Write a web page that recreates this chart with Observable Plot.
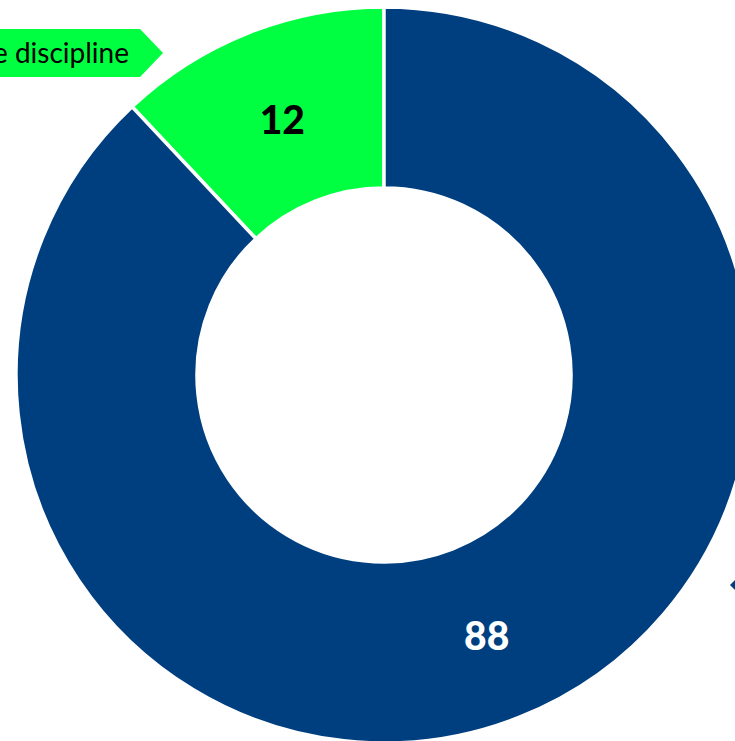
<!DOCTYPE html>
<html><head><meta charset="utf-8">
<script src="https://cdn.jsdelivr.net/npm/d3@7"></script>
<script src="https://cdn.jsdelivr.net/npm/@observablehq/plot@0.6"></script>
<style>html,body{margin:0;padding:0;background:#fff;overflow:hidden}svg{display:block}</style>
</head><body><div id="chart"></div>
<script>
const categories = ["Outside the discipline", "Within the discipline"];
const values = [12, 88];
const colors = ["#00FF40", "#003F7F"];
const labelColors = ["#000000", "#FFFFFF"];

const W = 735, H = 741;
const cx = 384, cy = 375, R = 368, r0 = 187;

const total = d3.sum(values);
const g = values[0] / total * 2 * Math.PI;
const arc = d3.arc().innerRadius(r0).outerRadius(R);
const arcsData = categories.map((c, i) => {
  const start = i === 0 ? -g : 0;
  const end = i === 0 ? 0 : 2 * Math.PI - g;
  const [px, py] = arc.centroid({startAngle: start, endAngle: end});
  return {category: c, value: values[i], start, end, color: colors[i], lc: labelColors[i], lx: cx + px, ly: cy + py};
});

function donut(index, {x, y}) {
  const G = d3.create("svg:g").attr("transform", `translate(${x(cx)},${y(cy)})`);
  G.selectAll("path").data(arcsData).join("path")
    .attr("d", a => arc({startAngle: a.start, endAngle: a.end}))
    .attr("fill", a => a.color)
    .attr("stroke", "#fff").attr("stroke-width", 3.5);
  // green callout box (left, partially off-canvas)
  const gx = -cx + 140, gy = -cy + 53;
  G.append("path").attr("d", `M${-cx - 300},${gy - 24} L${gx},${gy - 24} L${gx + 23},${gy} L${gx},${gy + 24} L${-cx - 300},${gy + 24} Z`).attr("fill", colors[0]);
  G.append("text").attr("x", gx - 11).attr("y", gy).attr("dy", "0.35em").attr("text-anchor", "end")
    .attr("font-family", "Lato, 'Open Sans', sans-serif").attr("font-size", 28).attr("fill", "#000")
    .text(categories[0]);
  // blue callout (right, mostly off-canvas)
  const bx = W - cx - 5, by = 585 - cy;
  G.append("path").attr("d", `M${bx},${by} L${bx + 10},${by - 10} L${bx + 300},${by - 10} L${bx + 300},${by + 10} L${bx + 10},${by + 10} Z`).attr("fill", colors[1]);
  return G.node();
}

const chart = Plot.plot({
  width: W, height: H, margin: 0,
  x: {domain: [0, W], range: [0, W]}, y: {domain: [0, H], range: [0, H]},
  axis: null,
  marks: [
    donut,
    Plot.text(arcsData, {x: "lx", y: "ly", dy: 4, text: "value", fill: "lc", fontSize: 39, fontWeight: 900,
      fontFamily: "Lato, 'Open Sans', sans-serif", textAnchor: "middle"})
  ]
});
document.getElementById("chart").appendChild(chart);
</script></body></html>
